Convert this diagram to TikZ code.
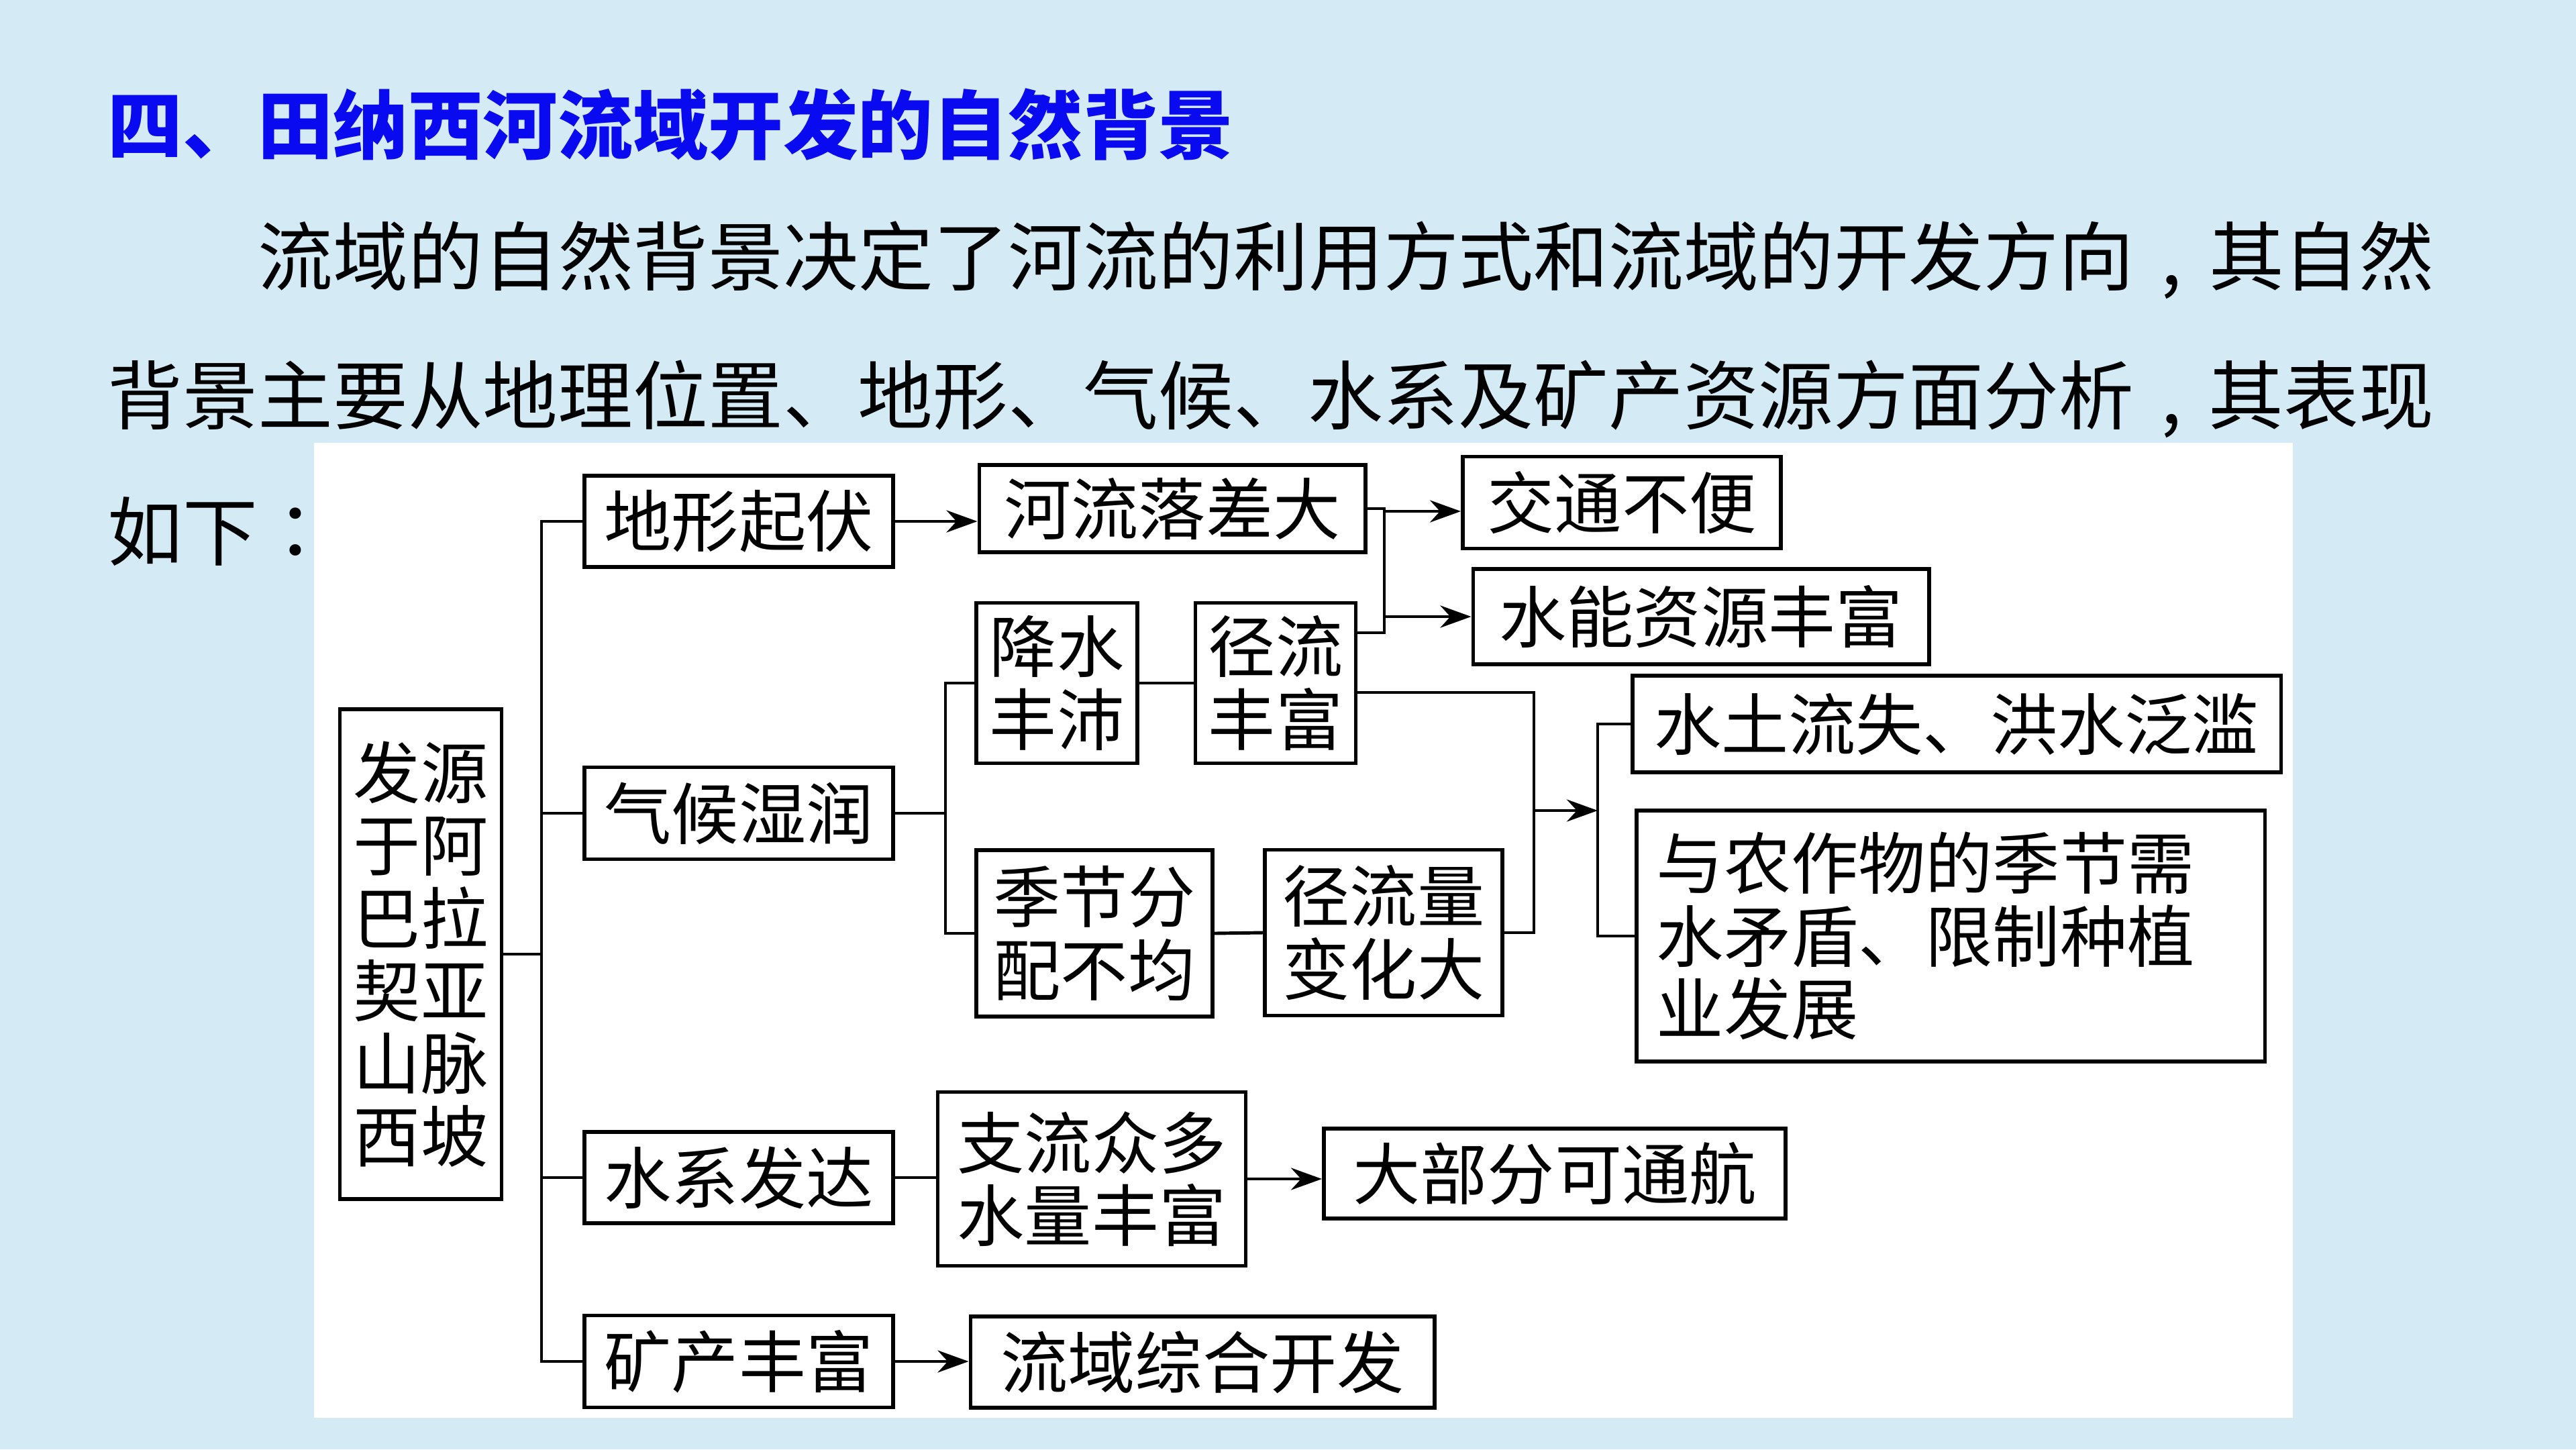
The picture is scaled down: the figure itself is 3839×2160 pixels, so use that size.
\documentclass[tikz,border=0pt]{standalone}
\usepackage{fontspec}
\newfontfamily\cjk{Noto Sans CJK SC}
\newfontfamily\cjkpunct{Noto Sans CJK TC}
\usetikzlibrary{arrows.meta}
\definecolor{slidebg}{RGB}{212,235,246}
\definecolor{titleblue}{RGB}{10,10,240}
\newcommand\midcomma{\makebox[1em]{,}}
\tikzset{my box/.style={draw,line width=1.6pt,fill=white,align=center,inner sep=0pt,minimum width=#1,minimum height=1.36cm,font=\cjk\fontsize{28.5}{30.8}\selectfont},
my line/.style={line width=1.4pt},
my arrow/.style={line width=1.4pt,-{Stealth[length=4.6mm,width=3.3mm]}},
my text/.style={anchor=west,inner sep=0pt,font=\cjk\fontsize{31.8}{36}\selectfont}}

\begin{document}
\begin{tikzpicture}[x=0.01cm,y=-0.01cm]
\fill[slidebg] (0,0) rectangle (3839,2160);
\fill[white] (468,660) rectangle (3417,2113);
\node[my text,font=\cjk\bfseries\fontsize{31.8}{36}\selectfont,text=titleblue] (title) at (160,186) {四、田纳西河流域开发的自然背景};
\node[my text] (line1) at (384,388) {流域的自然背景决定了河流的利用方式和流域的开发方向\midcomma 其自然};
\node[my text] (line2) at (160,595) {背景主要从地理位置、地形、气候、水系及矿产资源方面分析\midcomma 其表现};
\node[my text] (line3) at (160,792) {如下{\cjkpunct ：}};

\node[my box=2.41cm,minimum height=7.30cm] (root) at (627,1422) {发源\\于阿\\巴拉\\契亚\\山脉\\西坡};
\node[my box=4.60cm] (dxqf) at (1101,777) {地形起伏};
\node[my box=5.75cm,minimum height=1.30cm] (hlcd) at (1747,758) {河流落差大};
\node[my box=4.74cm,minimum height=1.37cm] (jtbb) at (2417,749) {交通不便};
\node[my box=6.79cm,minimum height=1.42cm] (snzy) at (2535,919) {水能资源丰富};
\node[my box=4.60cm,minimum height=1.37cm] (qhsr) at (1101,1212) {气候湿润};
\node[my box=2.40cm,minimum height=2.39cm] (jsfp) at (1575,1018) {降水\\丰沛};
\node[my box=2.39cm,minimum height=2.39cm] (jlff) at (1901,1018) {径流\\丰富};
\node[my box=3.52cm,minimum height=2.48cm] (jjfp) at (1631,1391) {季节分\\配不均};
\node[my box=3.54cm,minimum height=2.47cm] (jlbh) at (2062,1390) {径流量\\变化大};
\node[my box=9.66cm,minimum height=1.44cm] (stls) at (2916,1079) {水土流失、洪水泛滥};
\node[my box=9.36cm,minimum height=3.74cm,align=left,text width=8.76cm] (nzw) at (2907,1395) {与农作物的季节需\\水矛盾、限制种植\\业发展};
\node[my box=4.60cm] (sxfd) at (1101,1755) {水系发达};
\node[my box=4.59cm,minimum height=2.59cm] (zlzd) at (1627,1757) {支流众多\\水量丰富};
\node[my box=6.88cm,minimum height=1.34cm] (dbf) at (2317,1749) {大部分可通航};
\node[my box=4.60cm,minimum height=1.37cm] (kcff) at (1101,2029) {矿产丰富};
\node[my box=6.91cm] (lyzh) at (1792,2030) {流域综合开发};

\coordinate (trunk) at (807,777);
\coordinate (fork1) at (2063,762);
\coordinate (fork2) at (1409,1212);
\coordinate (fork3) at (2286,1208);
\coordinate (fork4) at (2381,1208);

\draw[my line] (dxqf.west) -| (trunk |- kcff.west) -- (kcff.west);
\draw[my line] (root.east) -- (root.east -| trunk);
\draw[my line] (qhsr.west) -- (qhsr.west -| trunk);
\draw[my line] (sxfd.west) -- (sxfd.west -| trunk);

\draw[my arrow] (dxqf.east) -- (dxqf.east -| hlcd.west);
\draw[my line] (hlcd.east) -- (hlcd.east -| fork1) |- ([yshift=0.75cm]jlff.east);
\draw[my arrow] (fork1) -- (fork1 -| jtbb.west);
\draw[my arrow] (fork1 |- snzy.west) -- (snzy.west);

\draw[my line] (qhsr.east) -- (fork2);
\draw[my line] (jsfp.west) -| (fork2) |- (jjfp.west);
\draw[my line] (jsfp.east) -- (jlff.west);
\draw[my line] (jjfp.east) -- (jlbh.west);
\draw[my line] ([yshift=-0.14cm]jlff.east) -| (fork3) |- (jlbh.east);
\draw[my arrow] (fork3) -- (fork4);
\draw[my line] (stls.west) -| (fork4) |- (nzw.west);

\draw[my line] (sxfd.east) -- (sxfd.east -| zlzd.west);
\draw[my arrow] (zlzd.east) -- (zlzd.east -| dbf.west);
\draw[my arrow] (kcff.east) -- (kcff.east -| lyzh.west);
\end{tikzpicture}
\end{document}
